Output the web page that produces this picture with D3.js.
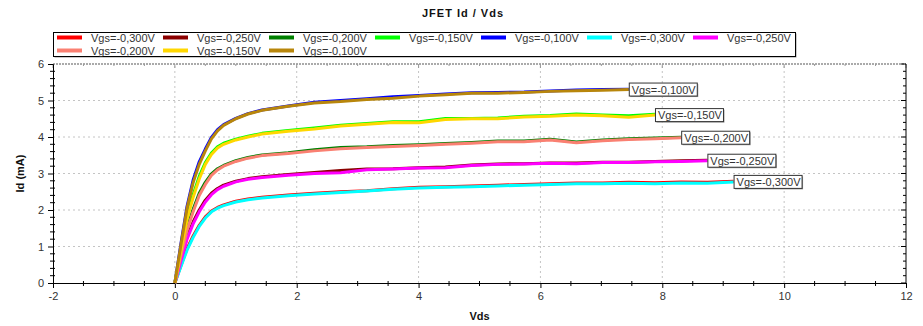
<!DOCTYPE html>
<html lang="en">
<head>
  <meta charset="UTF-8">
  <title>JFET Id / Vds</title>
  <style>
    * { margin: 0; }
    body { background: #fff; font-family: Arial, "Liberation Sans", sans-serif; }
    svg { display: block; }
    text { font-size: 11px; fill: #333; }
    .title { font-weight: bold; fill: #111; letter-spacing: 1px; }
    .axlabel { font-weight: bold; fill: #111; }
    .grid line { stroke: #c4c4c4; stroke-dasharray: 2,3; }
  </style>
</head>
<body>
  <div id="chart"></div>
  <script src="https://cdnjs.cloudflare.com/ajax/libs/d3/7.8.5/d3.min.js"></script>
  <script>
    // sweep points (Vds, V)
    const vds = [0, 0.1, 0.2, 0.3, 0.4, 0.5, 0.6, 0.7, 0.8, 1.0, 1.2, 1.43, 1.86, 2.29, 2.72,
      3.15, 3.58, 4.01, 4.44, 4.87, 5.3, 5.73, 6.16, 6.59, 7.02, 7.45, 7.88, 8.31, 8.74, 9.17];

    // Id (mA), first run
    const idA300 = [0, 0.48, 0.94, 1.29, 1.58, 1.81, 1.97, 2.07, 2.14, 2.24, 2.3, 2.35, 2.41, 2.46, 2.5,
      2.53, 2.58, 2.62, 2.64, 2.66, 2.68, 2.7, 2.72, 2.74, 2.74, 2.76, 2.75, 2.77, 2.76, 2.79];
    const idA250 = [0, 0.63, 1.25, 1.67, 2.0, 2.27, 2.46, 2.59, 2.68, 2.79, 2.86, 2.91, 2.97, 3.03, 3.08,
      3.12, 3.13, 3.16, 3.18, 3.23, 3.26, 3.27, 3.29, 3.29, 3.31, 3.31, 3.33, 3.35, 3.36];
    const idA200 = [0, 0.78, 1.5, 2.02, 2.46, 2.76, 2.99, 3.13, 3.22, 3.35, 3.44, 3.51, 3.57, 3.65, 3.71,
      3.73, 3.77, 3.79, 3.82, 3.85, 3.89, 3.89, 3.94, 3.86, 3.92, 3.95, 3.97, 3.99];
    const idA150 = [0, 0.93, 1.8, 2.42, 2.92, 3.3, 3.56, 3.73, 3.83, 3.94, 4.02, 4.1, 4.18, 4.25, 4.32,
      4.37, 4.42, 4.42, 4.51, 4.51, 4.52, 4.57, 4.59, 4.63, 4.6, 4.58, 4.62];
    const idA100 = [0, 1.08, 2.1, 2.82, 3.32, 3.67, 3.99, 4.2, 4.34, 4.51, 4.64, 4.74, 4.85, 4.95, 5.0,
      5.05, 5.1, 5.14, 5.18, 5.21, 5.22, 5.23, 5.26, 5.29, 5.3, 5.31];

    // Id (mA), second run
    const idB300 = [0, 0.45, 0.9, 1.25, 1.55, 1.78, 1.95, 2.05, 2.12, 2.22, 2.28, 2.33, 2.39, 2.44, 2.48,
      2.52, 2.57, 2.6, 2.62, 2.64, 2.66, 2.68, 2.7, 2.72, 2.72, 2.73, 2.72, 2.74, 2.73, 2.77];
    const idB250 = [0, 0.6, 1.2, 1.62, 1.95, 2.22, 2.42, 2.56, 2.65, 2.77, 2.84, 2.89, 2.95, 3.0, 3.02,
      3.1, 3.12, 3.15, 3.16, 3.22, 3.25, 3.26, 3.28, 3.27, 3.3, 3.3, 3.32, 3.33, 3.35];
    const idB200 = [0, 0.75, 1.45, 1.95, 2.4, 2.7, 2.95, 3.1, 3.2, 3.33, 3.42, 3.49, 3.55, 3.62, 3.68,
      3.71, 3.74, 3.77, 3.8, 3.83, 3.87, 3.87, 3.92, 3.84, 3.9, 3.93, 3.95, 3.98];
    const idB150 = [0, 0.9, 1.75, 2.35, 2.85, 3.25, 3.52, 3.7, 3.8, 3.92, 4.0, 4.08, 4.16, 4.22, 4.3,
      4.35, 4.4, 4.39, 4.48, 4.5, 4.5, 4.55, 4.57, 4.6, 4.58, 4.54, 4.6];
    const idB100 = [0, 1.05, 2.05, 2.75, 3.25, 3.62, 3.95, 4.17, 4.32, 4.5, 4.63, 4.73, 4.84, 4.93, 4.97,
      5.03, 5.06, 5.12, 5.16, 5.2, 5.2, 5.22, 5.25, 5.27, 5.28, 5.3];

    const seriesNames = ['Vgs=-0,300V', 'Vgs=-0,250V', 'Vgs=-0,200V', 'Vgs=-0,150V', 'Vgs=-0,100V',
      'Vgs=-0,300V', 'Vgs=-0,250V', 'Vgs=-0,200V', 'Vgs=-0,150V', 'Vgs=-0,100V'];
    const seriesValues = [idA300, idA250, idA200, idA150, idA100, idB300, idB250, idB200, idB150, idB100];
    const seriesColors = ['#ff0000', '#8b0000', '#008000', '#00ff00', '#0000ff',
      '#00ffff', '#ff00ff', '#fa8072', '#ffd700', '#b8860b'];
    const labelledSeries = [5, 6, 7, 8, 9];

    const xTicks = [-2, 0, 2, 4, 6, 8, 10, 12];
    const yTicks = [0, 1, 2, 3, 4, 5, 6];

    const width = 923, height = 326;
    const margin = { top: 64, right: 17, bottom: 43, left: 53 };

    const svg = d3.select('#chart').append('svg')
      .attr('width', width)
      .attr('height', height);

    const x = d3.scaleLinear().domain([-2, 12]).range([margin.left, width - margin.right]);
    const y = d3.scaleLinear().domain([0, 6]).range([height - margin.bottom, margin.top]);
    const x0 = x.range()[0], x1 = x.range()[1], y0 = y.range()[0], y1 = y.range()[1];

    // grid
    svg.append('g').attr('class', 'grid')
      .selectAll('line').data(xTicks.filter(d => d > -2 && d < 12)).join('line')
      .attr('x1', d => x(d)).attr('x2', d => x(d))
      .attr('y1', y0).attr('y2', y1);
    svg.append('g').attr('class', 'grid')
      .selectAll('line').data(yTicks.filter(d => d > 0 && d < 6)).join('line')
      .attr('x1', x0).attr('x2', x1)
      .attr('y1', d => y(d)).attr('y2', d => y(d));

    // top edge (grey dotted)
    svg.append('line')
      .attr('x1', x0).attr('x2', x1).attr('y1', y1).attr('y2', y1)
      .attr('stroke', '#aaa').attr('stroke-width', 2).attr('stroke-dasharray', '2,1');
    svg.append('g')
      .selectAll('line').data(d3.range(-2, 12.01, 0.5)).join('line')
      .attr('x1', d => x(d)).attr('x2', d => x(d))
      .attr('y1', y1).attr('y2', d => y1 + (d % 2 === 0 ? 4 : 2))
      .attr('stroke', '#999');

    // bottom axis
    const xMinor = d3.range(-2, 12.01, 0.5).filter(d => d % 2 !== 0);
    const bottom = svg.append('g').attr('transform', `translate(0,${y0})`);
    bottom.call(d3.axisBottom(x).tickValues(xTicks).tickSize(5).tickPadding(4).tickFormat(d => d));
    bottom.selectAll('line.minor').data(xMinor).enter().append('line')
      .attr('class', 'minor')
      .attr('x1', d => x(d)).attr('x2', d => x(d)).attr('y1', -2).attr('y2', 3)
      .attr('stroke', '#000');

    // left axis
    const yMinor = d3.range(0, 6.01, 0.2).filter(d => Math.abs(d - Math.round(d)) > 0.01);
    const left = svg.append('g').attr('transform', `translate(${x0},0)`);
    left.call(d3.axisLeft(y).tickValues(yTicks).tickSize(5).tickPadding(4).tickFormat(d => d));
    left.selectAll('line.minor').data(yMinor).enter().append('line')
      .attr('class', 'minor')
      .attr('x1', -3).attr('x2', 2).attr('y1', d => y(d)).attr('y2', d => y(d))
      .attr('stroke', '#000');

    // right axis
    const right = svg.append('g').attr('transform', `translate(${x1},0)`);
    right.append('line').attr('x1', 0).attr('x2', 0).attr('y1', y0).attr('y2', y1).attr('stroke', '#000');
    right.selectAll('line.t').data(d3.range(0, 6.01, 0.2)).enter().append('line')
      .attr('class', 't')
      .attr('x1', d => Math.abs(d - Math.round(d)) < 0.01 ? -5 : -3).attr('x2', 0)
      .attr('y1', d => y(d)).attr('y2', d => y(d))
      .attr('stroke', '#000');

    svg.selectAll('.domain').attr('stroke', '#000');
    svg.selectAll('.tick text').style('font-size', '11px').attr('fill', '#333');

    // curves
    const line = d3.line()
      .x(d => x(d[0]))
      .y(d => y(d[1]));

    seriesValues.forEach((vals, i) => {
      const pts = vals.map((v, j) => [vds[j], v]);
      svg.append('path')
        .datum(pts)
        .attr('fill', 'none')
        .attr('stroke', seriesColors[i])
        .attr('stroke-width', 3)
        .attr('stroke-linejoin', 'round')
        .attr('d', line);
    });

    // end labels
    labelledSeries.forEach(i => {
      const vals = seriesValues[i];
      const lx = x(vds[vals.length - 1]);
      const ly = y(vals[vals.length - 1]);
      const g = svg.append('g').attr('transform', `translate(${lx},${ly})`);
      g.append('rect').attr('x', 1.5).attr('y', -5.5).attr('width', 68).attr('height', 13)
        .attr('fill', '#999');
      g.append('rect').attr('x', 0.5).attr('y', -6.5).attr('width', 68).attr('height', 13)
        .attr('fill', '#fff').attr('stroke', '#333');
      g.append('text').attr('x', 3).attr('y', 4).attr('fill', '#111')
        .text(seriesNames[i]);
    });

    // legend
    const legend = svg.append('g');
    legend.append('rect').attr('x', 54.5).attr('y', 33.5).attr('width', 742).attr('height', 24)
      .attr('fill', '#999');
    legend.append('rect').attr('x', 53.5).attr('y', 32.5).attr('width', 742).attr('height', 24)
      .attr('fill', '#fff').attr('stroke', '#000');
    seriesNames.forEach((name, i) => {
      const col = i % 7, row = Math.floor(i / 7);
      const lx = 57 + col * 106, ly = 37.5 + row * 13;
      legend.append('line').attr('x1', lx).attr('x2', lx + 25).attr('y1', ly).attr('y2', ly)
        .attr('stroke', seriesColors[i]).attr('stroke-width', 4);
      legend.append('text').attr('x', lx + 34).attr('y', ly + 4).text(name);
    });

    // titles
    svg.append('text').attr('class', 'title')
      .attr('x', 463).attr('y', 17).attr('text-anchor', 'middle')
      .text('JFET Id / Vds');
    svg.append('text').attr('class', 'axlabel')
      .attr('x', (x0 + x1) / 2).attr('y', 320).attr('text-anchor', 'middle')
      .text('Vds');
    svg.append('text').attr('class', 'axlabel')
      .attr('transform', `translate(24,${(y0 + y1) / 2}) rotate(-90)`)
      .attr('text-anchor', 'middle')
      .text('Id (mA)');
  </script>
</body>
</html>
